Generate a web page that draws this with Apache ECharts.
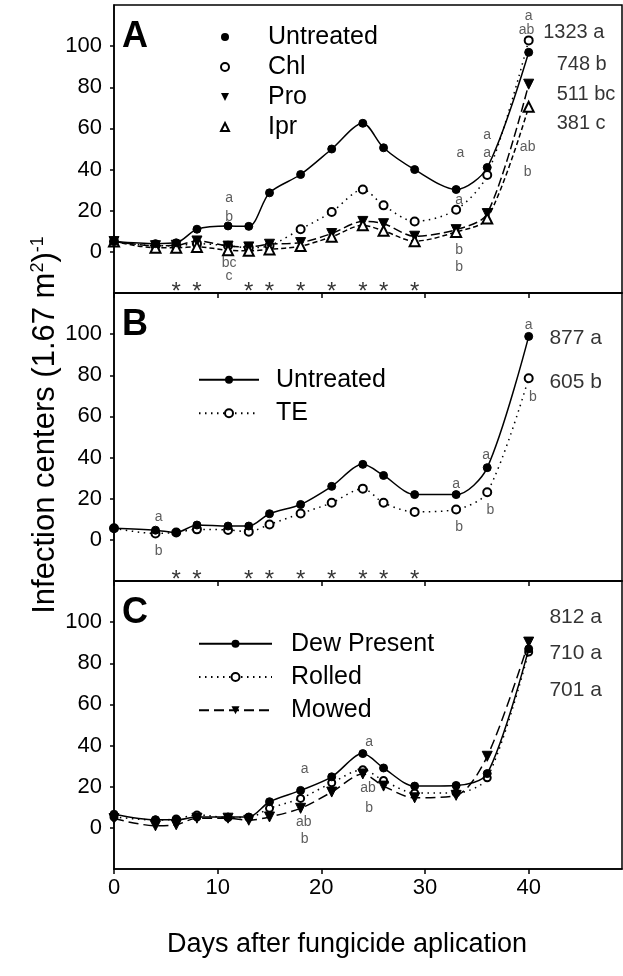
<!DOCTYPE html>
<html><head><meta charset="utf-8">
<script src="https://cdn.jsdelivr.net/npm/echarts@6/dist/echarts.min.js"></script>
<style>html,body{margin:0;padding:0;background:#fff}#c{width:623px;height:976px}</style>
</head><body><div id="c"></div>
<script>
// ---- data ----
const days = [0,4,6,8,11,13,15,18,21,24,26,29,33,36,40];
// Panel A
const untreatedA = [5,4,4.4,11,12.6,12.4,28.7,37.6,50,62.5,50.6,40,30.3,41,97];
const chlA       = [5,3,3,4,3,2,3,11,19.4,30.3,22.6,14.8,20.5,37.4,102.8];
const proA       = [5,3,3.2,5.3,2.8,2.4,3.7,4.5,8.9,14.8,13.7,7.6,10.8,18.6,81.5];
const iprA       = [5,2,2,2.4,0.8,0.5,1.2,2.8,7.3,12.9,10.2,5.2,9.7,16.2,70.5];
// Panel B
const untreatedB = [5.6,4.7,3.6,7.2,6.7,6.7,12.7,17.2,26,36.7,31.3,22,22,35.1,98.9];
const teB        = [5.6,3.1,3.6,5.1,4.8,4,7.5,12.8,18,24.9,18,13.6,14.8,23.1,78.6];
// Panel C
const dewC    = [6.6,3.9,3.9,5.3,5.3,5.3,12.7,18.2,24.8,36.1,29.1,20.3,20.6,26.4,87];
const rolledC = [5.3,3.8,4.3,6.3,5,5,9.5,14.3,21.9,28.3,23,17,17,24.3,85.5];
const mowedC  = [4.5,1,1.5,4.7,4.7,3.7,5.3,9.5,17.4,26.2,20.3,14.6,15.8,34.8,90.3];
// days with significant differences
const starDays = [6,8,13,15,18,21,24,26,29];
const yTicks = [0,20,40,60,80,100];
const xTicks = [0,10,20,30,40];
// mean separation letters: [day, value, text]
const lettersA = [[11.1,26,'a'],[11.1,16.9,'b'],[11.1,-5.3,'bc'],[11.1,-11.8,'c'],
  [33.4,47.8,'a'],[33.3,25,'a'],[33.3,0.8,'b'],[33.3,-7.3,'b'],
  [36,56.5,'a'],[36,47.8,'a'],[39.9,50.7,'ab'],[39.9,38.7,'b'],
  [40,114.5,'a'],[39.8,107.7,'ab']];
const lettersB = [[4.3,10.8,'a'],[4.3,-5.3,'b'],[33,27.1,'a'],[33.3,6.3,'b'],
  [35.9,41.2,'a'],[36.3,14.3,'b'],[40,104.5,'a'],[40.4,69.2,'b']];
const lettersC = [[18.4,28.6,'a'],[18.3,2.6,'ab'],[18.4,-5.4,'b'],
  [24.6,41.7,'a'],[24.5,19.2,'ab'],[24.6,9.5,'b']];
// AUDPC totals
const totalsA = [[41.4,106.8,'1323 a'],[42.7,91.3,'748 b'],[42.7,76.3,'511 bc'],[42.7,62.3,'381 c']];
const totalsB = [[42,98,'877 a'],[42,76.4,'605 b']];
const totalsC = [[42,102.4,'812 a'],[42,84.7,'710 a'],[42,67,'701 a']];
const panelLetters = ['A','B','C'];

// ---- chart ----
const FONT = 'Liberation Sans, Arial, sans-serif';
const chart = echarts.init(document.getElementById('c'));
const gridTops = [5,293,581];
const grids = gridTops.map(t => ({left:114, width:508, top:t, height:288, show:true,
  borderColor:'#000', borderWidth:1.5, backgroundColor:'transparent'}));
const xAxes = [0,1,2].map(i => ({type:'value', gridIndex:i, min:0, max:49, interval:10,
  axisLine:{show:true, onZero:false, lineStyle:{color:'#000', width:1.5}},
  axisTick:{show:true, inside:false, length:5, lineStyle:{color:'#000', width:1.5}, customValues:xTicks},
  axisLabel:{show:i===2, fontSize:22, color:'#000', fontFamily:FONT, margin:8, customValues:xTicks},
  splitLine:{show:false}}));
const yAxes = [0,1,2].map(i => ({type:'value', gridIndex:i, min:-20, max:120, interval:20,
  axisLine:{show:true, onZero:false, lineStyle:{color:'#000', width:1.5}},
  axisTick:{show:true, inside:false, length:4, lineStyle:{color:'#000', width:1.5}, customValues:yTicks},
  axisLabel:{show:true, fontSize:22, color:'#000', fontFamily:FONT, margin:12, customValues:yTicks},
  splitLine:{show:false}}));

function line(name, vals, idx, symbol, lineType, extra) {
  return Object.assign({
    type:'line', name, xAxisIndex:idx, yAxisIndex:idx,
    data: days.map((d,i)=>[d, vals[i]]),
    smooth:0.3, symbol, symbolSize:8, showSymbol:true, clip:false,
    lineStyle:{color:'#000', width:1.5, type:lineType},
    itemStyle:{color:'#000', borderColor:'#000'},
    emphasis:{disabled:true}
  }, extra||{});
}
function textSeries(arr, idx, size, color) {
  return {type:'scatter', xAxisIndex:idx, yAxisIndex:idx, data:arr, symbolSize:1, clip:false,
    itemStyle:{color:'rgba(0,0,0,0)'}, silent:true, z:5,
    label:{show:true, position:'inside', formatter:p=>p.data[2], fontSize:size, color:color,
      fontFamily:FONT, align:'center', verticalAlign:'middle'}};
}
function totalSeries(arr, idx, size) {
  const s = textSeries(arr, idx, size, '#000');
  s.label.align = 'left';
  return s;
}
function starSeries(idx) {
  return {type:'scatter', xAxisIndex:idx, yAxisIndex:idx, data:starDays.map(d=>[d,-20]),
    symbolSize:1, clip:false, itemStyle:{color:'rgba(0,0,0,0)'}, silent:true,
    label:{show:true, position:'inside', formatter:'*', fontSize:24, color:'#000',
      fontFamily:FONT, offset:[0,-1]}};
}

const DOT = [1.5,4.5];
const series = [
  line('Untreated', untreatedA, 0, 'circle', 'solid', {z:4}),
  line('Chl', chlA, 0, 'emptyCircle', DOT, {z:3}),
  line('Pro', proA, 0, 'triangle', [9,4], {symbolRotate:180, symbolSize:10, z:3}),
  line('Ipr', iprA, 0, 'emptyTriangle', [5,3], {symbolSize:10, z:3}),
  line('Untreated', untreatedB, 1, 'circle', 'solid', {z:4}),
  line('TE', teB, 1, 'emptyCircle', DOT, {z:3}),
  line('Dew Present', dewC, 2, 'circle', 'solid', {z:4}),
  line('Rolled', rolledC, 2, 'emptyCircle', DOT, {z:3, symbolSize:7}),
  line('Mowed', mowedC, 2, 'triangle', [10,5], {symbolRotate:180, symbolSize:10, z:3}),
  textSeries(lettersA, 0, 14, '#333'),
  textSeries(lettersB, 1, 14, '#333'),
  textSeries(lettersC, 2, 14, '#333'),
  totalSeries(totalsA, 0, 20),
  totalSeries(totalsB, 1, 21),
  totalSeries(totalsC, 2, 21),
  starSeries(0), starSeries(1)
];

const legendText = {fontSize:25, color:'#000', fontFamily:FONT};
const legends = [
  {data:['Untreated','Chl','Pro','Ipr'], orient:'vertical', left:181, top:17,
   itemWidth:76, itemHeight:10, itemGap:0, selectedMode:false,
   lineStyle:{opacity:0},
   textStyle:Object.assign({lineHeight:30}, legendText)},
  {data:['Untreated','TE'], orient:'vertical', left:193, top:358,
   itemWidth:60, itemHeight:10, itemGap:0, selectedMode:false,
   textStyle:Object.assign({lineHeight:33.5, padding:[0,0,0,12]}, legendText)},
  {data:['Dew Present','Rolled','Mowed'], orient:'vertical', left:193, top:622,
   itemWidth:73, itemHeight:10, itemGap:0, selectedMode:false,
   textStyle:Object.assign({lineHeight:33.3, padding:[0,0,0,14]}, legendText)}
];

const graphics = [
  ...panelLetters.map((t,i)=>({type:'text', left:122, top:gridTops[i]+14,
    style:{text:t, font:'bold 36px '+FONT, fill:'#000'}})),
  {type:'text', x:45, y:425, rotation:Math.PI/2,
   style:{text:'Infection centers (1.67 m{sup|2}){sup|-1}', font:'31px '+FONT, fill:'#000',
     align:'center', verticalAlign:'middle',
     rich:{sup:{fontSize:18, verticalAlign:'top', padding:[0,0,12,0], fontFamily:FONT}}}},
  {type:'text', x:347, y:945,
   style:{text:'Days after fungicide aplication', font:'27px '+FONT, fill:'#000',
     align:'center', verticalAlign:'middle'}}
];

chart.setOption({animation:false, backgroundColor:'#fff',
  grid:grids, xAxis:xAxes, yAxis:yAxes, series, legend:legends, graphic:graphics});
</script></body></html>
